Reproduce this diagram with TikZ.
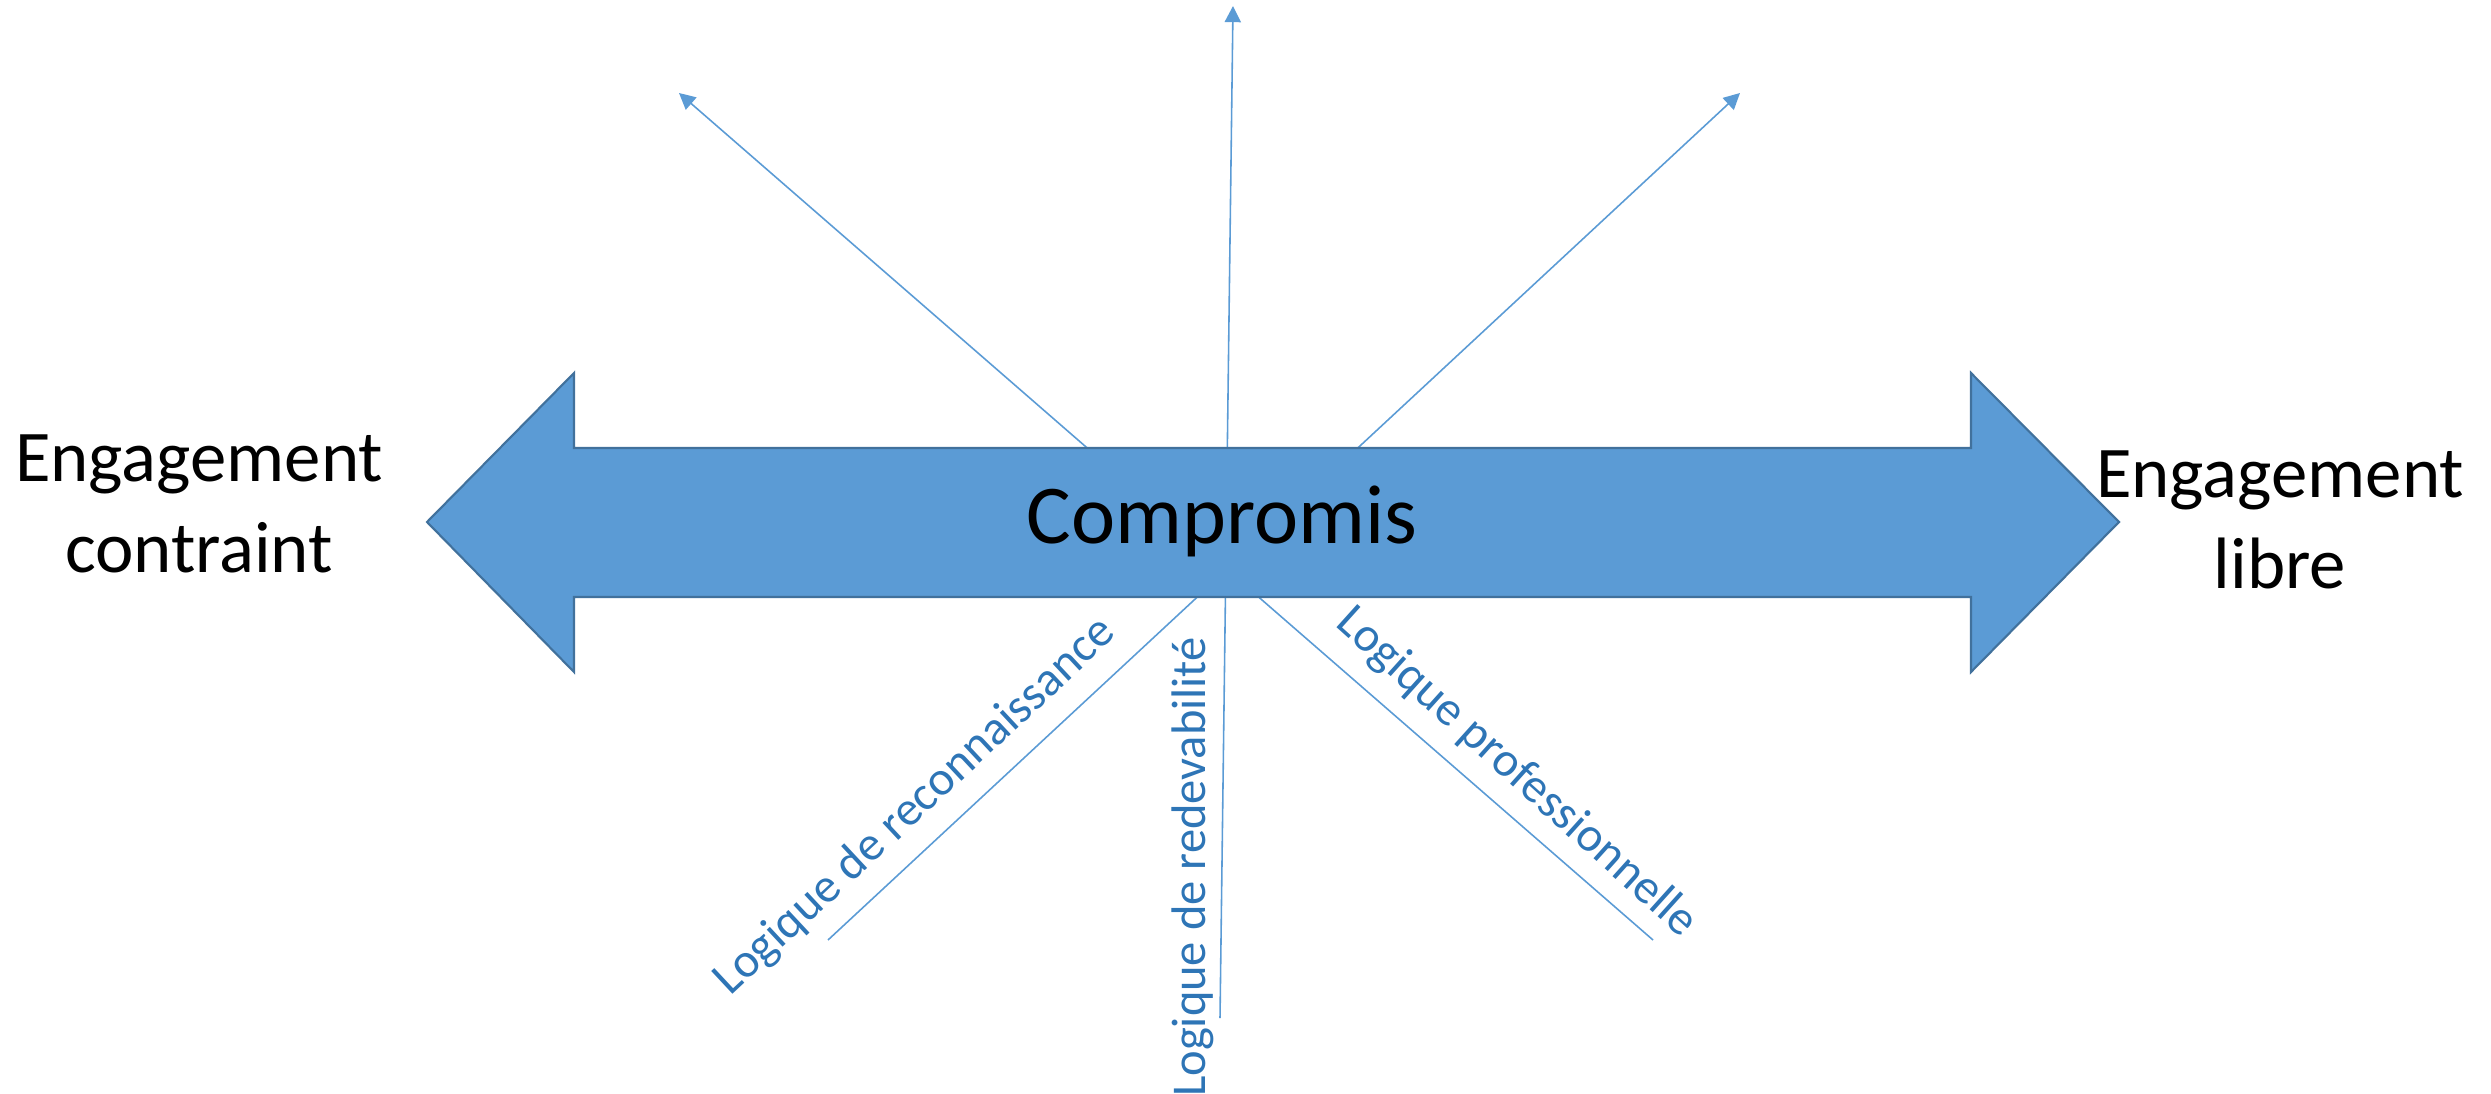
\documentclass[tikz,border=0pt]{standalone}
\usepackage{fontspec}
\setmainfont{Carlito}
\usetikzlibrary{arrows.meta}

\definecolor{shaftblue}{HTML}{5B9BD5}
\definecolor{edgeblue}{HTML}{41719C}
\definecolor{logicblue}{HTML}{2E75B6}

\begin{document}
\begin{tikzpicture}[x=0.01cm, y=-0.01cm,
	>={Triangle[length=4.6pt, width=4.6pt]},
	logic/.style={draw=shaftblue, line width=0.45pt},
	pole/.style={align=center, inner sep=0pt, font=\fontsize{20.7}{25.9}\selectfont},
	logiclabel/.style={inner sep=0pt, anchor=base, text=logicblue, font=\fontsize{13.8}{16}\selectfont}]
% Frame
\useasboundingbox (0,0) rectangle (2491,1094);

% Ends of the three logics
\coordinate (Reco-foot) at (828,940);
\coordinate (Reco-tip) at (1740,93);
\coordinate (Rede-foot) at (1220,1018);
\coordinate (Rede-tip) at (1233,6);
\coordinate (Prof-foot) at (1653,940);
\coordinate (Prof-tip) at (679,93);

% Logic lines, behind the big arrow
\draw[logic, ->] (Reco-foot) -- (Reco-tip);
\draw[logic, ->] (Rede-foot) -- (Rede-tip);
\draw[logic, ->] (Prof-foot) -- (Prof-tip);

% Double arrow
\draw[fill=shaftblue, draw=edgeblue, line width=0.6pt, line join=miter]
	(427,522) -- (574,373) -- (574,448) -- (1971,448) -- (1971,373)
	-- (2119,522) -- (1971,672) -- (1971,597) -- (574,597) -- (574,672) -- cycle;

\node[inner sep=0pt, anchor=base, font=\fontsize{23.8}{28}\selectfont]
	(Compromis) at (1222,543) {Compromis};

% Poles
\node[pole] (Contraint) at (199,504) {Engagement\\contraint};
\node[pole] (Libre) at (2280,520) {Engagement\\libre};

% Labels of the logics
\node[logiclabel, rotate=43] (Reco-label) at (924,816) {Logique de reconnaissance};
\node[logiclabel, rotate=90] (Rede-label) at (1205,867) {Logique de redevabilité};
\node[logiclabel, rotate=-42] (Prof-label) at (1508,782) {Logique professionnelle};
\end{tikzpicture}
\end{document}
